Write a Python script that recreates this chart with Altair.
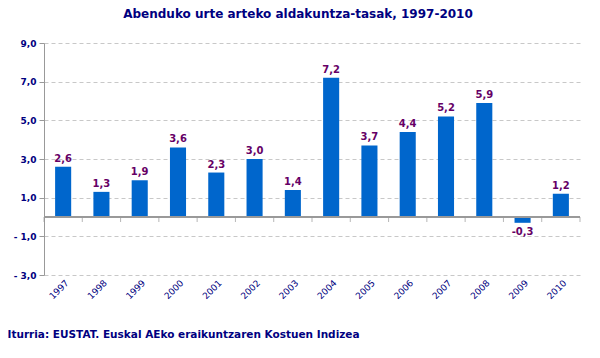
import altair as alt
import pandas as pd

years = ["1997", "1998", "1999", "2000", "2001", "2002", "2003", "2004",
         "2005", "2006", "2007", "2008", "2009", "2010"]
rates = [2.6, 1.3, 1.9, 3.6, 2.3, 3.0, 1.4, 7.2, 3.7, 4.4, 5.2, 5.9, -0.3, 1.2]
y_ticks = [-3, -1, 1, 3, 5, 7, 9]
title_text = "Abenduko urte arteko aldakuntza-tasak, 1997-2010"
source_text = "Iturria: EUSTAT. Euskal AEko eraikuntzaren Kostuen Indizea"

df = pd.DataFrame({"year": years, "rate": rates})
df["label"] = [f"{v:.1f}".replace(".", ",") for v in rates]

W, H = 536, 232
NAVY = "#000080"
FONT = "DejaVu Sans"
step = W / len(years)

xscale = alt.Scale(domain=years, paddingInner=0.58, paddingOuter=0.29)
yscale = alt.Scale(domain=[-3, 9], nice=False, zero=False)

x_enc = alt.X("year:N", scale=xscale, sort=years,
              axis=alt.Axis(orient="bottom", domain=False, ticks=False, grid=False,
                            labelAngle=-45, labelAlign="right", labelBaseline="middle",
                            labelPadding=6, labelOffset=4,
                            labelFont=FONT, labelFontSize=9, labelColor=NAVY,
                            title=source_text, titleFont=FONT, titleFontSize=10.5,
                            titleFontWeight="bold", titleColor=NAVY,
                            titleAnchor="start", titleAlign="left",
                            titleBaseline="alphabetic", titleX=-37, titleY=62))
y_enc = alt.Y("rate:Q", scale=yscale,
              axis=alt.Axis(values=y_ticks, tickCount=20, title=None, labelOverlap=False,
                            labelExpr="(datum.value < 0 ? '- ' : '') + replace(format(abs(datum.value), '.1f'), '.', ',')",
                            labelFont=FONT, labelFontSize=9, labelFontWeight="bold",
                            labelColor=NAVY, labelPadding=3,
                            domainColor="#999999", tickColor="#999999", tickSize=5,
                            gridColor="#c8c8c8", gridDash=[4, 3]))

bars = alt.Chart(df).mark_bar(color="#0066CC").encode(x=x_enc, y=y_enc)

zero_line = alt.Chart(df).mark_rule(color="#999999", strokeWidth=1).encode(
    y=alt.datum(0))

ticks_left = alt.Chart(df).mark_tick(orient="vertical", color="#999999", size=5,
                                     thickness=1, xOffset=-step / 2, yOffset=2.5).encode(
    x=alt.X("year:N", scale=xscale, sort=years), y=alt.datum(0))
ticks_right = alt.Chart(df).transform_filter(alt.datum.year == years[-1]).mark_tick(
    orient="vertical", color="#999999", size=5, thickness=1,
    xOffset=step / 2, yOffset=2.5).encode(
    x=alt.X("year:N", scale=xscale, sort=years), y=alt.datum(0))

lab_pos = alt.Chart(df).transform_filter(alt.datum.rate >= 0).mark_text(
    font=FONT, fontSize=10, fontWeight="bold", color="#660066",
    baseline="bottom", dy=-3).encode(
    x=alt.X("year:N", scale=xscale, sort=years), y="rate:Q", text="label:N")
lab_neg = alt.Chart(df).transform_filter(alt.datum.rate < 0).mark_text(
    font=FONT, fontSize=10, fontWeight="bold", color="#660066",
    baseline="top", dy=4).encode(
    x=alt.X("year:N", scale=xscale, sort=years), y="rate:Q", text="label:N")

chart = alt.layer(bars, zero_line, ticks_left, ticks_right, lab_pos, lab_neg).properties(
    width=W, height=H, background="white",
    title=alt.Title(title_text, font=FONT, fontSize=12, fontWeight="bold",
                    color=NAVY, anchor="middle", dx=-14, offset=18),
    autosize=alt.AutoSizeParams(type="none"),
    padding={"left": 36, "top": 35, "right": 12, "bottom": 70},
).configure_view(strokeWidth=0)

chart.save("out.html", embed_options={"renderer": "svg", "actions": False})
